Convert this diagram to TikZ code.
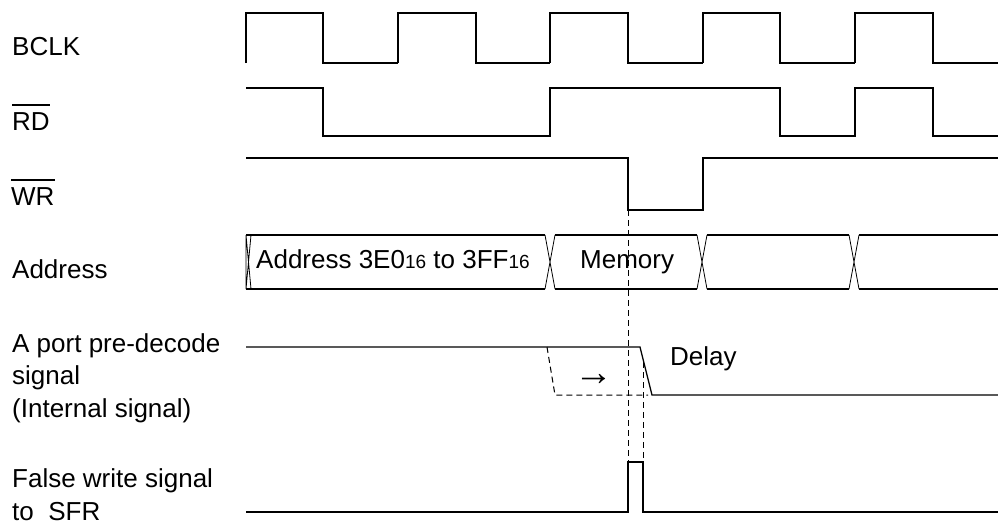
\documentclass[tikz,border=0pt]{standalone}
\usepackage{fontspec}
\setmainfont{Liberation Sans}
% active-low name: bar drawn over the letters
\newcommand{\barred}[1]{\leavevmode\setbox0=\hbox{#1}\rlap{\rule[24.5pt]{\wd0}{1.5pt}}\box0}

\begin{document}
\begin{tikzpicture}[x=1pt, y=-1pt,
    sig/.style={line width=1.3pt},
    cross/.style={line width=0.8pt},
    guide/.style={line width=1pt, dash pattern=on 6pt off 4pt},
    siglabel/.style={anchor=base west, inner sep=0pt, align=left,
      font=\fontsize{26}{32.5}\selectfont},
    note/.style={anchor=base west, inner sep=0pt, font=\fontsize{26}{32}\selectfont}]
  \useasboundingbox (0,0) rectangle (998,528);

  % signal names (base of a wrapped name = its last line)
  \node [siglabel] (bclk) at (12,55) {BCLK};
  \node [siglabel] (rd) at (12,130) {\barred{RD}};
  \node [siglabel] (wr) at (11,205) {\barred{WR}};
  \node [siglabel] (addr) at (12,278) {Address};
  \node [siglabel] (pre) at (12,417) {A port pre-decode\\signal\\(Internal signal)};
  \node [siglabel] (false) at (12,520) {False write signal\\to\ \ SFR};

  % BCLK
  \foreach \r/\f/\n in {246/323/398, 398/476/550, 550/628/703, 703/780/855, 855/933/998}
    \draw [sig] (\r,63) -- (\r,13) -- (\f,13) -- (\f,63) -- (\n,63);

  % RD, WR
  \draw [sig] (246,88) -- (323,88) -- (323,136) -- (550,136) -- (550,88) -- (780,88)
    -- (780,136) -- (855,136) -- (855,88) -- (933,88) -- (933,136) -- (998,136);
  \draw [sig] (246,158) -- (628,158) -- (628,210) -- (703,210) -- (703,158) -- (998,158);

  % Address bus
  \draw [cross] (246,235) -- (246,289) (246,235) -- (251,289) (251,235) -- (246,289);
  \foreach \x in {545,697,849}
    \draw [cross] (\x,235) -- (\x+10,289) (\x+10,235) -- (\x,289);
  \foreach \a/\b in {246/545, 555/697, 707/849, 859/998}
    \draw [sig] (\a,235) -- (\b,235) (\a,289) -- (\b,289);
  \node [note] (range) at (256,268)
    {Address 3E0{\fontsize{19}{19}\selectfont 16} to 3FF{\fontsize{19}{19}\selectfont 16}};
  \node [note] (mem) at (580,268) {Memory};

  % pre-decode
  \draw [sig] (246,347) -- (640,347) -- (652,395) -- (998,395);
  \draw [guide] (547,347) -- (555,395) -- (648,395);
  \node [note, font=\fontsize{39}{39}\selectfont\bfseries] (shift) at (574,385) {→};
  \node [note] (delay) at (670,365) {Delay};

  % false write
  \draw [sig] (246,512) -- (628,512) -- (628,462) -- (643,462) -- (643,512) -- (998,512);

  % guides
  \draw [guide] (628,210) -- (628,462);
  \draw [guide] (643,362) -- (643,462);
\end{tikzpicture}
\end{document}
